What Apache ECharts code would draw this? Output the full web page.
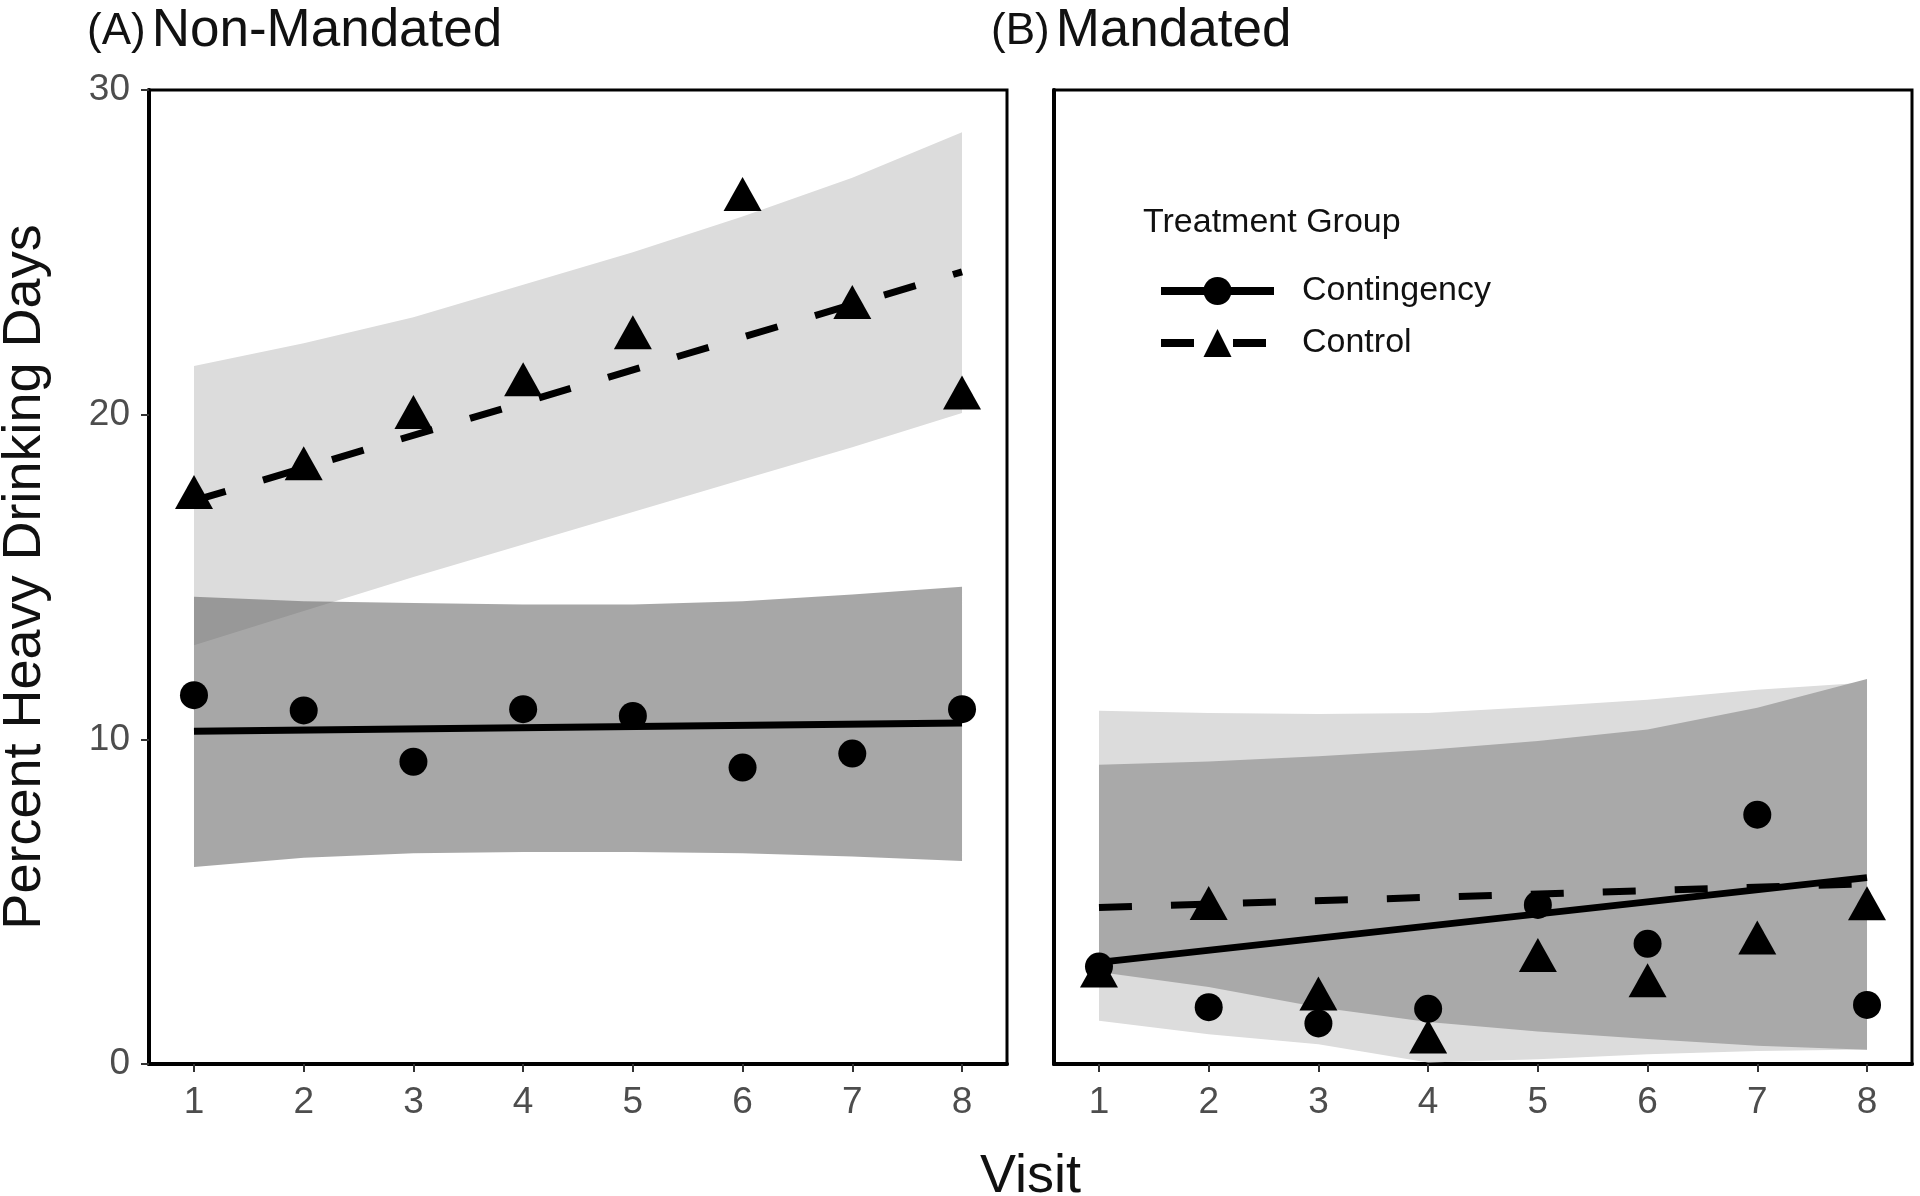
<!DOCTYPE html>
<html>
<head>
<meta charset="utf-8">
<script src="https://cdn.jsdelivr.net/npm/echarts@6/dist/echarts.min.js"></script>
<style>
html,body{margin:0;padding:0;background:#fff;}
#chart{width:1920px;height:1196px;}
</style>
</head>
<body>
<div id="chart"></div>
<script>
// ---------- data ----------
const visits = [1, 2, 3, 4, 5, 6, 7, 8];
const fitVisits = [1, 8];
const yTicks = [0, 10, 20, 30];

// (A) Non-Mandated
const nmContPts   = [11.36, 10.89, 9.31, 10.93, 10.72, 9.13, 9.56, 10.93];
const nmCtlPts    = [17.62, 18.5, 20.08, 21.09, 22.54, 26.8, 23.47, 20.68];
const nmContFit   = [10.25, 10.5];
const nmCtlFit    = [17.35, 24.4];
const nmContUpper = [14.39, 14.25, 14.2, 14.15, 14.15, 14.25, 14.46, 14.7];
const nmContLower = [6.07, 6.35, 6.49, 6.53, 6.53, 6.49, 6.39, 6.25];
const nmCtlUpper  = [21.5, 22.2, 23.0, 24.0, 25.0, 26.1, 27.3, 28.7];
const nmCtlLower  = [12.9, 13.95, 15.0, 16.0, 17.0, 18.0, 19.0, 20.05];

// (B) Mandated
const mContPts   = [3.0, 1.75, 1.25, 1.7, 4.9, 3.7, 7.68, 1.82];
const mCtlPts    = [2.88, 4.96, 2.17, 0.85, 3.36, 2.58, 3.9, 4.95];
const mContFit   = [3.13, 5.74];
const mCtlFit    = [4.82, 5.55];
const mContUpper = [9.22, 9.32, 9.48, 9.68, 9.95, 10.3, 10.97, 11.86];
const mContLower = [2.83, 2.37, 1.75, 1.29, 1.0, 0.77, 0.56, 0.44];
const mCtlUpper  = [10.88, 10.81, 10.78, 10.81, 11.0, 11.22, 11.53, 11.75];
const mCtlLower  = [1.33, 0.92, 0.61, 0.05, 0.15, 0.3, 0.4, 0.45];

// ---------- helpers ----------
const pairs = (xs, ys) => xs.map((x, i) => [x, ys[i]]);
const FONT = "'Liberation Sans', Arial, sans-serif";
const DASH = [33, 39];

function band(idx, lower, upper, color) {
  return {
    type: 'custom', xAxisIndex: idx, yAxisIndex: idx, silent: true, z: 1,
    data: visits.map((v, i) => [v, lower[i], upper[i]]),
    encode: { x: 0, y: [1, 2] },
    renderItem: function (params, api) {
      if (params.dataIndex !== 0) return null;
      const pts = [];
      for (let i = 0; i < visits.length; i++) pts.push(api.coord([visits[i], upper[i]]));
      for (let i = visits.length - 1; i >= 0; i--) pts.push(api.coord([visits[i], lower[i]]));
      return { type: 'polygon', shape: { points: pts }, style: { fill: color } };
    }
  };
}
function fitLine(idx, name, ys, sym, dashed) {
  return { type: 'line', name: name, xAxisIndex: idx, yAxisIndex: idx,
    data: pairs(fitVisits, ys), symbol: sym, showSymbol: false, silent: true,
    itemStyle: { color: '#000' },
    lineStyle: { color: '#000', width: 7, type: dashed ? DASH : 'solid', cap: 'butt' }, z: 3 };
}
function points(idx, name, ys, sym, size) {
  return { type: 'scatter', name: name, xAxisIndex: idx, yAxisIndex: idx,
    data: pairs(visits, ys), symbol: sym, symbolSize: size, silent: true,
    itemStyle: { color: '#000', opacity: 1 }, z: 4 };
}
function xAxisCfg(idx) {
  return { gridIndex: idx, type: 'value', min: 0.59, max: 8.41,
    axisLine: { show: true, onZero: false, lineStyle: { color: '#000', width: 4 } },
    axisTick: { show: true, customValues: visits, length: 8, lineStyle: { color: '#333', width: 2 } },
    axisLabel: { customValues: visits, fontSize: 37, color: '#4d4d4d', margin: 20, fontFamily: FONT },
    splitLine: { show: false } };
}
function yAxisCfg(idx, showLabels) {
  const c = { gridIndex: idx, type: 'value', min: yTicks[0], max: yTicks[yTicks.length - 1], interval: 10,
    axisLine: { show: true, onZero: false, lineStyle: { color: '#000', width: 4 } },
    axisTick: { show: showLabels, length: 8, lineStyle: { color: '#333', width: 2 } },
    axisLabel: { show: showLabels, fontSize: 37, color: '#4d4d4d', margin: 19, fontFamily: FONT },
    splitLine: { show: false } };
  if (showLabels) {
    c.name = 'Percent Heavy Drinking Days';
    c.nameLocation = 'middle';
    c.nameGap = 97;
    c.nameTextStyle = { fontSize: 54, color: '#111', fontFamily: FONT };
  }
  return c;
}

const DARK_A = 'rgba(100,100,100,0.57)';
const DARK_B = '#a9a9a9';
const LIGHT = '#dcdcdc';

const series = [
  fitLine(0, 'Contingency', nmContFit, 'circle', false),
  fitLine(0, 'Control', nmCtlFit, 'triangle', true),
  band(0, nmCtlLower, nmCtlUpper, LIGHT),
  band(0, nmContLower, nmContUpper, DARK_A),
  points(0, 'Contingency pts', nmContPts, 'circle', 28),
  points(0, 'Control pts', nmCtlPts, 'triangle', [38, 34]),
  band(1, mCtlLower, mCtlUpper, LIGHT),
  band(1, mContLower, mContUpper, DARK_B),
  fitLine(1, 'Contingency', mContFit, 'circle', false),
  fitLine(1, 'Control', mCtlFit, 'triangle', true),
  points(1, 'Contingency pts', mContPts, 'circle', 28),
  points(1, 'Control pts', mCtlPts, 'triangle', [38, 34])
];

const titleRich = {
  p: { fontSize: 44, fontWeight: 'normal', fontFamily: FONT, color: '#111', padding: [0, 6, 0, 0] },
  t: { fontSize: 53, fontWeight: 'normal', fontFamily: FONT, color: '#111' }
};

const option = {
  animation: false,
  backgroundColor: '#fff',
  title: [
    { text: '{p|(A)}{t|Non-Mandated}', left: 82, top: 0, textStyle: { fontWeight: 'normal', rich: titleRich } },
    { text: '{p|(B)}{t|Mandated}', left: 986, top: 0, textStyle: { fontWeight: 'normal', rich: titleRich } },
    { text: 'Treatment Group', left: 1138, top: 201,
      textStyle: { fontSize: 34, fontWeight: 'normal', color: '#111', fontFamily: FONT } }
  ],
  legend: {
    data: ['Contingency', 'Control'],
    orient: 'vertical', left: 1152, top: 269,
    itemWidth: 113, itemHeight: 35, itemGap: 18,
    selectedMode: false,
    lineStyle: { width: 8, color: '#000' },
    itemStyle: { color: '#000' },
    textStyle: { fontSize: 34, color: '#111', fontFamily: FONT, padding: [0, 0, 0, 23] }
  },
  grid: [
    { left: 149, top: 90, width: 858, height: 974, show: true, borderColor: '#000', borderWidth: 3,
      backgroundColor: '#fff', outerBoundsMode: 'none', containLabel: false },
    { left: 1054, top: 90, width: 858, height: 974, show: true, borderColor: '#000', borderWidth: 3,
      backgroundColor: '#fff', outerBoundsMode: 'none', containLabel: false }
  ],
  xAxis: [xAxisCfg(0), xAxisCfg(1)],
  yAxis: [yAxisCfg(0, true), yAxisCfg(1, false)],
  graphic: [
    { type: 'text', left: 980, top: 1150,
      style: { text: 'Visit', fontSize: 54, fill: '#111', fontFamily: FONT } }
  ],
  series: series
};

const chart = echarts.init(document.getElementById('chart'), null, { renderer: 'canvas' });
chart.setOption(option);
</script>
</body>
</html>
